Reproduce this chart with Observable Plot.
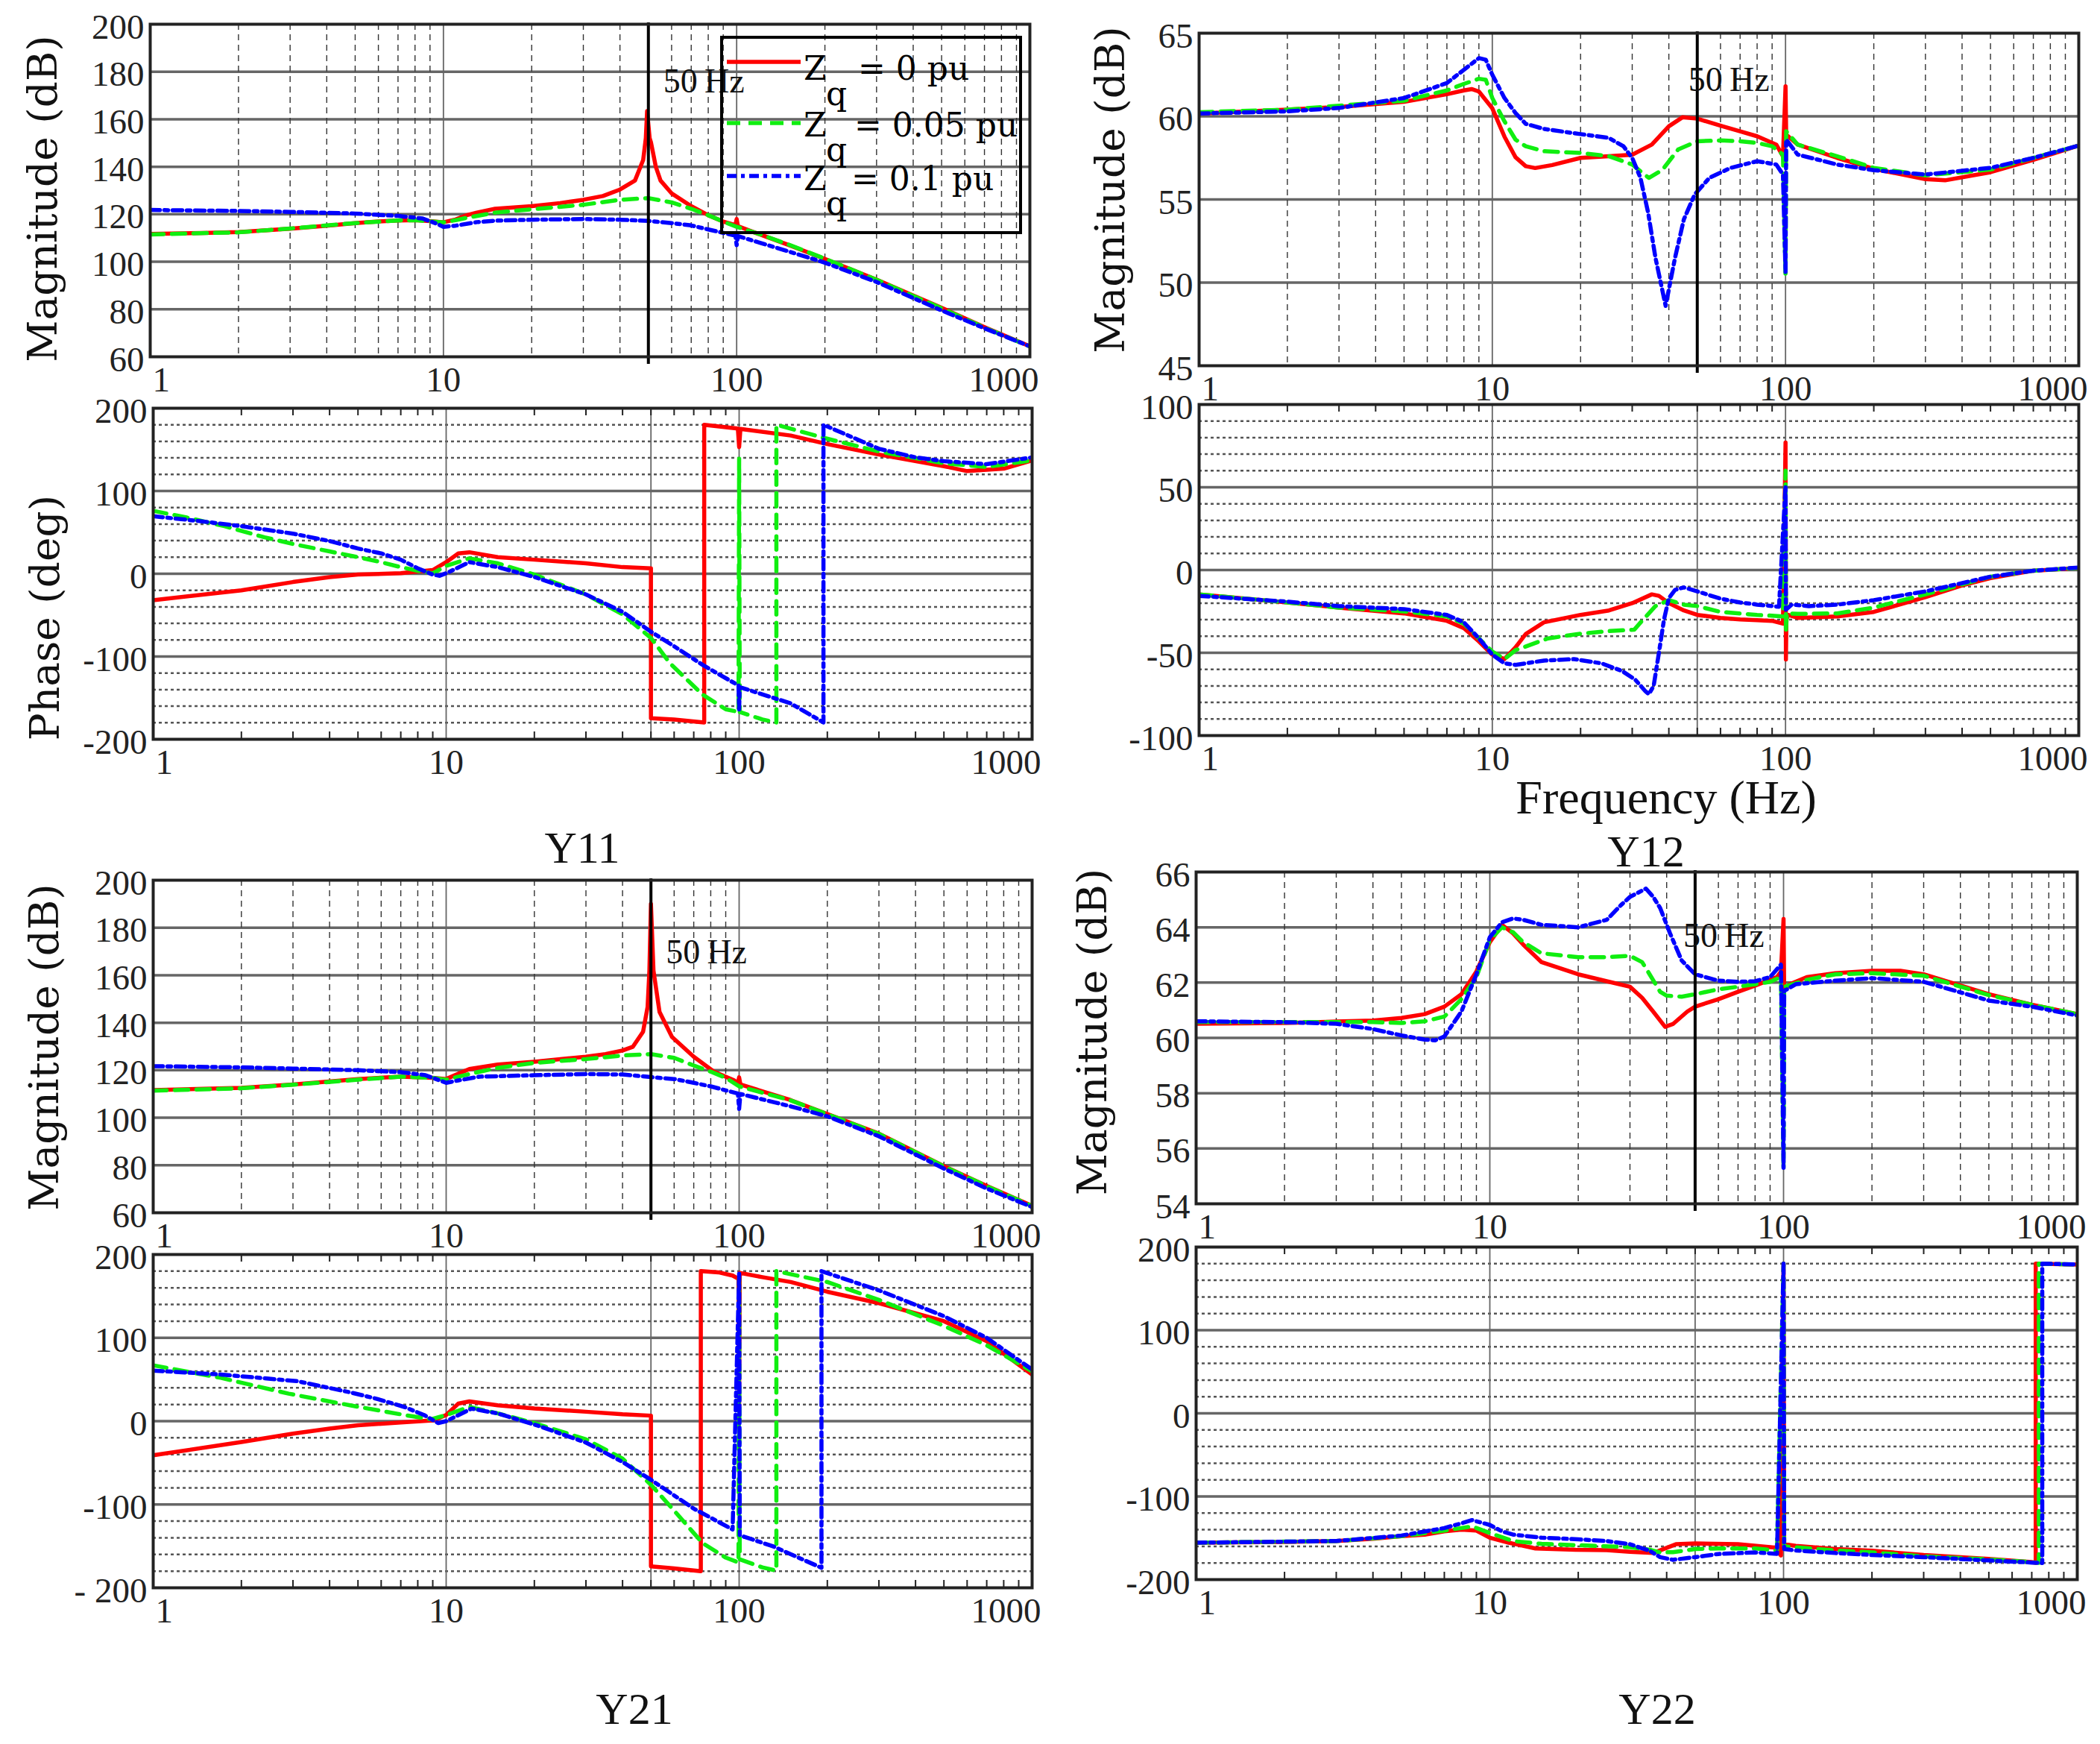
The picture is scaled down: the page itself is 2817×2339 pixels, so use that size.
<!DOCTYPE html>
<html>
<head>
<meta charset="utf-8">
<script src="https://cdn.jsdelivr.net/npm/d3@7"></script>
<script src="https://cdn.jsdelivr.net/npm/@observablehq/plot@0.6"></script>
<style>
  body { margin: 0; background: #fff; }
  #fig { position: relative; width: 2817px; height: 2339px; overflow: hidden; background: #fff; }
  #fig svg { position: absolute; overflow: visible; }
  .title { position: absolute; font-family: "Liberation Serif", serif; color: #111; line-height: 1; transform: translate(-50%, -50%); white-space: nowrap; }
</style>
</head>
<body>
<div id="fig"></div>
<script>
// ---------------------------------------------------------------
// ticks / grid values
const freqMinor = [2,3,4,5,6,7,8,9,20,30,40,50,60,70,80,90,200,300,400,500,600,700,800,900]
const freqDecades = [10, 100]
const magTicksBig = [60,80,100,120,140,160,180,200]
const magTicksY12 = [45,50,55,60,65]
const magTicksY22 = [54,56,58,60,62,64,66]
const phaseTicks200 = [-200,-100,0,100,200]
const phaseMinor200 = [-180,-160,-140,-120,-80,-60,-40,-20,20,40,60,80,120,140,160,180]
const phaseTicks100 = [-100,-50,0,50,100]
const phaseMinor100 = [-90,-80,-70,-60,-40,-30,-20,-10,10,20,30,40,60,70,80,90]

// ---------------------------------------------------------------
// Y11 : [frequency Hz, value]
const y11MagRed = [[1,111.7],[1.5,112.1],[2,112.5],[3,113.9],[4,115.2],[5,116.3],[6,117],[7,117.4],[8,117.5],[9,117.1],[10,116.6],[11,117.8],[12,119.6],[13,120.7],[15,122.3],[20,123.4],[25,124.7],[30,126.1],[35,127.7],[40,130.4],[45,134.2],[48,142.9],[49,152],[49.5,163.4],[50.5,152],[51,150.4],[53,140],[55,134.2],[60,128.8],[70,123.4],[80,119.6],[90,116.9],[99,115.4],[100,118],[101,115],[120,111.5],[150,107.1],[200,101.2],[300,92.5],[500,80.6],[700,72.5],[1000,64.4]]
const y11MagGreen = [[1,111.5],[2,112.4],[3,114],[5,116.3],[7,117.4],[8,117.5],[9,117],[10,116.6],[11,117.5],[12,118.5],[15,120.7],[20,122.1],[30,124],[40,126.1],[50,126.8],[60,125],[70,122.3],[80,119.6],[90,116.9],[100,114.7],[120,111.6],[150,107.3],[200,101.3],[300,92.4],[500,80.4],[700,72.3],[1000,64.3]]
const y11MagBlue = [[1,121.8],[2,121.4],[3,121],[5,120.3],[7,119.3],[8.5,118.2],[9.5,116],[10,114.7],[11,115.2],[13,116.7],[15,117.3],[20,117.7],[30,118],[40,117.7],[50,117.2],[60,116.3],[70,115.3],[80,113.6],[99,111],[100,107],[101,110.8],[150,104.4],[200,99.6],[300,91.5],[500,79.5],[700,72],[1000,64.4]]

const y11PhRed = [[1,-32],[2,-20],[3,-10],[4,-4],[5,-1],[7,0.6],[9,4.5],[10,14],[11,24.6],[12,26],[15,20],[20,17],[30,12.6],[40,8],[50,6.6],[50,-174.5],[60,-176.2],[76,-179.7],[76,180],[99,175.5],[100,153],[101,175],[150,167],[200,156.6],[300,144],[500,130],[600,124],[800,127],[1000,137]]
const y11PhGreen = [[1,76],[1.3,68],[1.75,57.5],[2.4,44],[3,36],[4,27],[5,20],[6,14],[7,8],[8,3.6],[9,0.5],[10,9.6],[12,18.6],[15,12.6],[20,-1],[30,-25],[40,-49],[50,-77.5],[58,-108],[75,-146],[90,-163.7],[99.5,-167],[100,139],[100.5,-167],[120,-176],[134,-179.7],[134,180],[197,163.7],[300,147.7],[500,133.5],[700,129],[1000,137]]
const y11PhBlue = [[1,69.5],[1.45,63.5],[2,57.5],[3,48.5],[4,39.5],[5,30.5],[6,24.6],[7,17],[8,6.6],[9,-1],[9.5,-2.4],[10,0.6],[12,14],[15,8],[20,-3.9],[30,-25],[40,-46],[50,-70],[59,-86],[75,-110],[99.5,-135],[100,-164],[100.5,-137],[150,-156.6],[194,-179.7],[194,180],[300,151],[400,140.6],[500,136],[700,132.4],[1000,140.6]]

// Y12
const y12MagRed = [[1,60.17],[2,60.4],[3,60.56],[5,60.87],[7,61.33],[8,61.56],[8.5,61.64],[9,61.49],[10,60.48],[11,58.78],[12,57.54],[13,57.0],[14,56.89],[16,57.07],[20,57.5],[25,57.6],[30,57.69],[35,58.3],[40,59.4],[44.5,59.94],[50,59.86],[61,59.4],[70,59.1],[80,58.8],[93,58.3],[98,57.6],[100,61.8],[100.5,58.9],[110,58.3],[150,57.5],[200,56.84],[300,56.22],[350,56.15],[500,56.64],[700,57.38],[1000,58.24]]
const y12MagGreen = [[1,60.25],[2,60.4],[5,60.94],[7,61.56],[8,61.95],[9,62.26],[9.5,62.2],[10,61.1],[11,59.7],[12,58.6],[13,58.2],[15,57.9],[20,57.8],[25,57.6],[30,57.1],[33,56.5],[34.2,56.3],[38,56.77],[43,58.0],[50,58.5],[60,58.55],[70,58.5],[80,58.4],[90,58.2],[98,57.7],[100,50.3],[100.5,59.1],[110,58.3],[150,57.6],[200,56.9],[300,56.45],[500,56.8],[700,57.5],[1000,58.24]]
const y12MagBlue = [[1,60.17],[2,60.3],[3,60.5],[5,61.1],[7,62.0],[8,62.8],[9,63.5],[9.5,63.4],[10,62.5],[11,61.1],[12,60.2],[13,59.55],[15,59.24],[20,58.93],[25,58.7],[28,58.2],[30,57.5],[32,56.3],[34,54.2],[36,51.5],[39,48.6],[42,51.5],[45,53.8],[49,55.3],[55,56.3],[65,56.9],[80,57.3],[93,57.1],[98,56.5],[100,50.6],[100.5,58.6],[110,57.7],[150,57.1],[200,56.76],[300,56.5],[500,56.9],[700,57.5],[1000,58.24]]

const y12PhRed = [[1,-14.7],[2,-19.6],[3,-22.7],[5,-26.2],[7,-30.7],[8,-35.1],[9,-43.1],[10,-51.1],[11,-53.8],[12,-46.7],[13,-38.7],[15,-31.6],[20,-27.1],[25,-24.4],[30,-20],[35,-14.7],[37,-15.6],[40,-20],[45,-24.4],[50,-27.1],[60,-28.9],[70,-29.8],[80,-30.3],[90,-30.7],[98,-32.4],[100,77],[100.3,-54],[100.7,-30],[102,-27.1],[110,-28.9],[150,-28],[200,-25.3],[300,-16.4],[400,-9.3],[500,-4.9],[700,-0.4],[1000,1.3]]
const y12PhGreen = [[1,-14.7],[2,-19.6],[3,-22.7],[5,-25],[7,-28],[8,-32.4],[9,-41.3],[10,-49.3],[11,-53.8],[12,-48.4],[15.5,-41.3],[19.5,-38.7],[25,-36.9],[30.5,-36],[32.4,-30.7],[36,-21.8],[40,-18.2],[45,-20.9],[50,-21.8],[60,-25.3],[80,-27.1],[98,-28],[100,60],[100.3,-37.8],[101,-26.2],[110,-26.5],[150,-26.2],[200,-22.7],[300,-14.7],[500,-4],[700,-0.4],[1000,1.3]]
const y12PhBlue = [[1,-15.6],[2,-19.1],[3,-21.8],[5,-23.6],[7,-27.1],[8,-31.6],[9,-41.3],[10,-51.1],[11,-56.4],[12,-57.3],[15,-54.7],[19,-53.8],[23.6,-56.4],[27.7,-61],[30.7,-66.2],[33.3,-73.3],[34.2,-75],[35.5,-70],[37,-50],[38.5,-30],[40,-17],[42,-12],[45,-10.5],[50,-12.9],[60,-17.3],[70,-19.6],[80,-20.9],[95,-22.2],[100,51],[100.3,-24],[105,-20.9],[120,-21.8],[150,-20.9],[200,-18.2],[300,-12.9],[500,-4],[700,-0.4],[1000,1.5]]

// Y21
const y21MagRed = [[1,111.6],[2,112.6],[3,114],[5,116.3],[7,117.3],[9,116.8],[10,116.3],[11,118.5],[12,120.5],[15,122.4],[20,123.6],[30,125.7],[35,126.8],[40,128.3],[43.4,129.9],[47,136.2],[48.7,146.6],[49.4,162],[50,190],[51,162],[53.5,144.5],[59,134],[70,125.7],[82,119.4],[96,115.8],[99,114.5],[100,117],[101,114],[150,107.4],[200,101.6],[300,93.3],[500,79.6],[700,71.3],[1000,62.9]]
const y21MagGreen = [[1,111.4],[2,112.4],[3,113.9],[5,116],[7,117.3],[9,116.8],[10,116],[12,118.4],[15,121],[20,123.1],[30,124.7],[40,126.2],[50,126.8],[60,125.2],[70,122],[80,119.4],[90,116.8],[100,113.2],[150,107.3],[200,101.5],[300,93.2],[500,79.5],[700,71.2],[1000,62.8]]
const y21MagBlue = [[1,121.7],[2,121.2],[3,120.7],[5,120],[7,119.2],[8.5,117.9],[10,114.7],[11,115.7],[13,117.3],[15,117.5],[20,117.9],[30,118.4],[40,118.2],[50,117.1],[60,116.3],[70,114.7],[80,113.2],[99,110.2],[100,103.7],[101,110],[150,104.8],[200,100.6],[300,92.2],[500,78.6],[700,70.2],[1000,62.4]]

const y21PhRed = [[1,-41],[2,-25],[3,-15],[4,-9],[5,-5],[7,-1.5],[9,0.8],[10,7.4],[11,21],[12,23.7],[15,19],[20,15.2],[30,11.3],[40,8.2],[50,6.6],[50,-174.3],[60,-176.7],[74,-180],[74,180],[85,178.6],[95,174.7],[99.5,170.8],[100,17],[100.5,178],[120,172.8],[150,167],[200,155.3],[300,141.6],[500,120],[700,96],[1000,56]]
const y21PhGreen = [[1,67],[1.7,52],[2.9,33],[4.7,19],[7.2,7.4],[8.9,2.3],[10,7.4],[12,17],[15,9.3],[20,-2.3],[30,-21.8],[40,-45],[50,-76.3],[60,-107.4],[75,-146.3],[90,-163.8],[99.5,-169.6],[100,172.8],[100.5,-165.8],[120,-175.5],[134,-179.4],[134,180],[200,167],[300,145.5],[500,114.4],[700,91],[1000,59.9]]
const y21PhBlue = [[1,60.7],[1.7,56],[3.1,48],[4.7,34.6],[5.8,26.8],[7.2,17],[8.4,7.4],[9.4,-2.3],[10,0],[12.2,15],[15,9.3],[20.8,-6],[30,-25.7],[40,-49],[50,-70.4],[70,-105],[95,-130],[100,177],[100.5,-137],[130,-150],[191,-176],[191,180],[300,157],[500,126],[700,100],[1000,61.9]]

// Y22
const y22MagRed = [[1,60.51],[2,60.54],[3,60.59],[4,60.63],[5,60.72],[6,60.86],[7,61.13],[8,61.58],[9,62.4],[10,63.46],[11,64.09],[12,63.78],[13,63.37],[15,62.74],[20,62.3],[25,62.05],[30,61.85],[33,61.45],[36,60.95],[39.5,60.4],[42,60.5],[47,60.95],[50,61.13],[60,61.4],[70,61.67],[80,61.89],[95,62.2],[98,62.4],[100,64.3],[100.5,61.7],[105,61.94],[120,62.2],[150,62.34],[200,62.43],[250,62.43],[300,62.3],[500,61.58],[700,61.2],[1000,60.86]]
const y22MagGreen = [[1,60.57],[2,60.57],[3,60.57],[4,60.57],[5,60.54],[6,60.6],[7,60.77],[8,61.4],[9,62.2],[10,63.55],[11,64.0],[12,63.82],[13,63.46],[15,63.06],[20,62.92],[25,62.92],[30,62.97],[33,62.74],[35,62.3],[38,61.67],[40,61.53],[45,61.49],[50,61.58],[60,61.76],[70,61.85],[80,61.94],[90,62.03],[98,62.2],[100,55.33],[100.5,61.85],[120,62.1],[150,62.3],[200,62.34],[300,62.25],[500,61.55],[700,61.2],[1000,60.86]]
const y22MagBlue = [[1,60.6],[2,60.57],[3,60.51],[4,60.32],[5,60.09],[6,59.94],[6.5,59.91],[7,60.05],[8,60.95],[9,62.3],[10,63.64],[11,64.18],[12,64.32],[13,64.27],[15,64.09],[20,64.0],[25,64.27],[28,64.81],[30,65.1],[34,65.4],[36,65.1],[38,64.7],[41,63.8],[45,62.8],[50,62.3],[60,62.07],[70,62.03],[80,62.05],[90,62.2],[98,62.65],[100,55.3],[100.5,61.7],[110,61.94],[150,62.07],[200,62.16],[300,62.03],[500,61.35],[700,61.13],[1000,60.81]]

const y22PhRed = [[1,-155.6],[2,-154.8],[3,-153.6],[4,-151],[5,-147.8],[6,-145.9],[7,-142],[8,-140],[9,-141],[10,-149.6],[11.6,-155.6],[14.3,-162.6],[19.6,-164.2],[25,-164.5],[30,-166.5],[36,-168],[43,-157.5],[50,-156.4],[70,-157.5],[93,-161.4],[98,-171],[100,180],[100.5,-157.4],[110,-159.5],[150,-163.3],[200,-165.3],[300,-170.4],[500,-175],[700,-179],[722,-179.8],[722,180],[1000,179]]
const y22PhGreen = [[1,-155.6],[3,-153.6],[5,-147.8],[7,-141],[8,-138],[8.7,-136],[10,-143.9],[12,-153.7],[15,-157],[20,-158.7],[30,-161],[35,-164],[38,-167.3],[42,-167],[50,-163.3],[60,-162.5],[80,-162.5],[95,-165],[100,180],[100.5,-160],[150,-165],[200,-167.3],[300,-172],[500,-175.8],[700,-179],[740,-179.8],[740,180],[1000,179]]
const y22PhBlue = [[1,-155.6],[3,-153.6],[5,-147],[7,-138],[8,-132.3],[8.7,-128.4],[10,-134.3],[11,-142],[12,-145.9],[15,-149.6],[20,-151.6],[25,-153.6],[30,-157.5],[35,-165.3],[38,-173],[42,-176.2],[50,-173],[60,-169.2],[80,-167.3],[95,-169],[100,180],[100.5,-163.3],[110,-165],[150,-168],[200,-170.4],[300,-173],[500,-177],[700,-179.5],[760,-180],[760,180],[1000,179]]

// ---------------------------------------------------------------
const seriesStyle = [
  {stroke: "#ff0000", strokeDasharray: null},
  {stroke: "#10ee10", strokeDasharray: "18,11"},
  {stroke: "#0000ff", strokeDasharray: "13,6,5,6"}
]

const fig = document.getElementById("fig")

function panel(o) {
  const mL = 200, mR = 40, mT = 14, mB = 70
  const w = o.right - o.left, h = o.bottom - o.top
  const y0 = o.yTicks[0], y1 = o.yTicks[o.yTicks.length - 1]
  const fmt = o.yFormat || (d => String(d))
  const marks = []

  if (o.yMinor) marks.push(Plot.ruleY(o.yMinor, {stroke: "#555", strokeWidth: 2.5, strokeDasharray: "4,4"}))
  marks.push(Plot.ruleY(o.yTicks.slice(1, -1), {stroke: "#666", strokeWidth: 3.5}))
  if (o.mag) {
    marks.push(Plot.ruleX(freqMinor, {stroke: "#333", strokeWidth: 1.4, strokeDasharray: "8,6"}))
    marks.push(Plot.ruleX(freqDecades, {stroke: "#666", strokeWidth: 1.8}))
  } else {
    marks.push(Plot.ruleX([10, 50, 100], {stroke: "#666", strokeWidth: 1.8}))
    marks.push(Plot.ruleX(freqMinor, {stroke: "#222", strokeWidth: 2, insetTop: h - 10}))
    marks.push(Plot.ruleX(freqMinor, {stroke: "#222", strokeWidth: 2, insetBottom: h - 10}))
  }

  o.series.forEach((s, i) => {
    marks.push(Plot.line(s, {
      x: d => d[0], y: d => d[1],
      stroke: seriesStyle[i].stroke, strokeWidth: 5.5,
      strokeDasharray: seriesStyle[i].strokeDasharray,
      strokeLinejoin: "round", clip: true
    }))
  })

  if (o.mag) {
    marks.push(Plot.ruleX([50], {stroke: "#000", strokeWidth: 4, insetBottom: -10, insetTop: -2}))
    marks.push(Plot.text(["50\u2009Hz"], {
      x: () => 50, y: () => o.hzY, text: d => d, dx: o.hzDx,
      textAnchor: "start", fontSize: 46, fill: "#111", fontFamily: "Liberation Serif"
    }))
  }

  marks.push(Plot.frame({stroke: "#222", strokeWidth: 4}))

  marks.push(Plot.axisY(o.yTicks, {anchor: "left", tickSize: 0, tickPadding: 8, dy: 4,
    tickFormat: fmt, fontSize: 47, label: null}))
  marks.push(Plot.axisX(freqDecades, {anchor: "bottom", tickSize: 0, tickPadding: 13,
    tickFormat: d => String(d), fontSize: 47, label: null}))
  marks.push(Plot.axisX([1], {anchor: "bottom", tickSize: 0, tickPadding: 13, textAnchor: "start", dx: 3,
    tickFormat: d => String(d), fontSize: 47, label: null}))
  marks.push(Plot.axisX([1000], {anchor: "bottom", tickSize: 0, tickPadding: 13, textAnchor: "end", dx: 12,
    tickFormat: d => String(d), fontSize: 47, label: null}))

  if (o.label) {
    marks.push(Plot.text([o.label], {
      x: () => 1, y: () => (y0 + y1) / 2, dx: o.labelDx, dy: o.labelDy, rotate: -90, text: d => d,
      textAnchor: "middle", lineAnchor: "middle",
      fontFamily: "DejaVu Serif", fontSize: 55, fill: "#111"
    }))
  }

  const chart = Plot.plot({
    width: w + mL + mR, height: h + mT + mB,
    marginLeft: mL, marginRight: mR, marginTop: mT, marginBottom: mB,
    x: {type: "log", domain: [1, 1000], axis: null},
    y: {domain: [y0, y1], axis: null},
    style: {fontFamily: "Liberation Serif", fontSize: "47px", color: "#222", background: "transparent", overflow: "visible"},
    marks
  })
  chart.style.position = "absolute"
  chart.style.left = (o.left - mL) + "px"
  chart.style.top = (o.top - mT) + "px"
  fig.append(chart)
}

// Y11
panel({left: 201, right: 1381, top: 32, bottom: 478, mag: true, yTicks: magTicksBig,
  series: [y11MagRed, y11MagGreen, y11MagBlue], hzY: 176, hzDx: 20,
  label: "Magnitude (dB)", labelDx: -143, labelDy: 11})
panel({left: 205, right: 1384, top: 547, bottom: 991, mag: false, yTicks: phaseTicks200, yMinor: phaseMinor200,
  series: [y11PhRed, y11PhGreen, y11PhBlue],
  label: "Phase (deg)", labelDx: -144, labelDy: 59})
// Y12
panel({left: 1608, right: 2788, top: 44, bottom: 490, mag: true, yTicks: magTicksY12,
  series: [y12MagRed, y12MagGreen, y12MagBlue], hzY: 62.2, hzDx: -12,
  label: "Magnitude (dB)", labelDx: -118, labelDy: -13})
panel({left: 1608, right: 2788, top: 542, bottom: 986, mag: false, yTicks: phaseTicks100, yMinor: phaseMinor100,
  series: [y12PhRed, y12PhGreen, y12PhBlue]})
// Y21
panel({left: 205, right: 1384, top: 1180, bottom: 1626, mag: true, yTicks: magTicksBig,
  series: [y21MagRed, y21MagGreen, y21MagBlue], hzY: 169.6, hzDx: 20,
  label: "Magnitude (dB)", labelDx: -145, labelDy: 1})
panel({left: 205, right: 1384, top: 1682, bottom: 2129, mag: false, yTicks: phaseTicks200, yMinor: phaseMinor200,
  series: [y21PhRed, y21PhGreen, y21PhBlue], yFormat: d => d === -200 ? "- 200" : String(d)})
// Y22
panel({left: 1604, right: 2786, top: 1169, bottom: 1614, mag: true, yTicks: magTicksY22,
  series: [y22MagRed, y22MagGreen, y22MagBlue], hzY: 63.7, hzDx: -16,
  label: "Magnitude (dB)", labelDx: -138, labelDy: -8})
panel({left: 1604, right: 2786, top: 1672, bottom: 2118, mag: false, yTicks: phaseTicks200, yMinor: phaseMinor200,
  series: [y22PhRed, y22PhGreen, y22PhBlue]})

// ---------------------------------------------------------------
// titles
function title(text, cx, cy, size) {
  const d = document.createElement("div")
  d.className = "title"
  d.textContent = text
  d.style.left = cx + "px"
  d.style.top = cy + "px"
  d.style.fontSize = size + "px"
  fig.append(d)
}
title("Y11", 781, 1137, 60)
title("Frequency (Hz)", 2235, 1070, 64)
title("Y12", 2208, 1142, 60)
title("Y21", 851, 2292, 60)
title("Y22", 2223, 2292, 60)

// ---------------------------------------------------------------
// legend (inside the Y11 magnitude axes)
const leg = d3.select(fig).append("svg")
  .attr("width", 2817).attr("height", 2339)
  .style("left", "0px").style("top", "0px")
leg.append("rect").attr("x", 968).attr("y", 50).attr("width", 401).attr("height", 262)
  .attr("fill", "none").attr("stroke", "#000").attr("stroke-width", 4)
const legRows = [
  {y: 83, base: 107, sub: 141, rest: "= 0 pu", restX: 1151},
  {y: 165, base: 183, sub: 216, rest: "= 0.05 pu", restX: 1146},
  {y: 236, base: 255, sub: 288, rest: "= 0.1 pu", restX: 1142}
]
legRows.forEach((r, i) => {
  const g = leg.append("g").attr("font-family", "DejaVu Serif").attr("font-size", 44).attr("fill", "#000")
  g.append("line").attr("x1", 975).attr("x2", 1074).attr("y1", r.y).attr("y2", r.y)
    .attr("stroke", seriesStyle[i].stroke).attr("stroke-width", 5.5)
    .attr("stroke-dasharray", seriesStyle[i].strokeDasharray)
  g.append("text").attr("x", 1078).attr("y", r.base).text("Z")
  g.append("text").attr("x", 1108).attr("y", r.sub).text("q")
  g.append("text").attr("x", r.restX).attr("y", r.base).text(r.rest)
})
</script>
</body>
</html>
